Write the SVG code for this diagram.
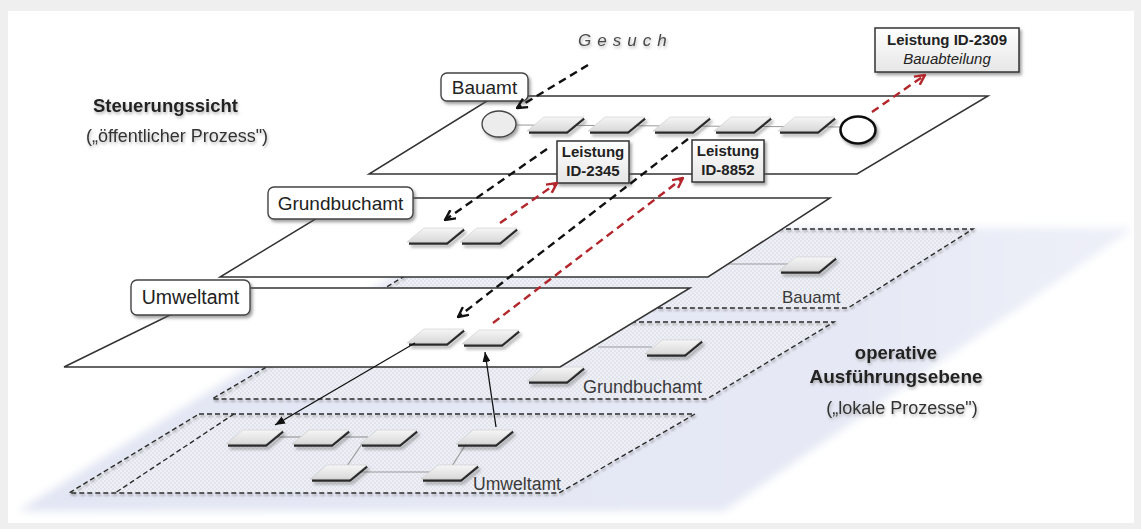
<svg xmlns="http://www.w3.org/2000/svg" width="1141" height="529" viewBox="0 0 1141 529">
  <style>
    .lbl { font-family: "Liberation Sans", Arial, sans-serif; fill: #222; }
    .ctrl { fill: #fff; stroke: #333; stroke-width: 1.5; stroke-linejoin: miter; }
    .op { fill: url(#dots); stroke: none; }
    .opedge { fill: none; stroke: #2b2b2b; stroke-width: 1.4; stroke-dasharray: 5 3; }
    .tag { fill: #fff; stroke: #444; stroke-width: 1.4; }
    .svc { fill: url(#svcfill); stroke: #333; stroke-width: 1.5; }
    .link { fill: none; stroke: #9a9a9a; stroke-width: 1.2; }
    .dblack { fill: none; stroke: #111; stroke-width: 2.4; stroke-dasharray: 8 5; }
    .dred { fill: none; stroke: #b3262b; stroke-width: 2.4; stroke-dasharray: 8 5; }
    .solid { fill: none; stroke: #111; stroke-width: 1.3; }
    .oplbl { font-family: "Liberation Sans", Arial, sans-serif; fill: #3a3a3a; }
  </style>
  <defs>
    <pattern id="dots" width="4" height="4" patternUnits="userSpaceOnUse">
      <rect width="4" height="4" fill="#eef0f6"/>
      <circle cx="1" cy="1" r="0.8" fill="#d2d5e1"/>
      <circle cx="3" cy="3" r="0.8" fill="#d2d5e1"/>
    </pattern>
    <linearGradient id="haze" x1="0" y1="0" x2="1" y2="0">
      <stop offset="0" stop-color="#e2e5f3"/>
      <stop offset="0.75" stop-color="#e6e9f5"/>
      <stop offset="1" stop-color="#eef0f9"/>
    </linearGradient>
    <linearGradient id="stepfill" x1="0" y1="0" x2="0" y2="1">
      <stop offset="0" stop-color="#f6f6f6"/>
      <stop offset="1" stop-color="#d9d9d9"/>
    </linearGradient>
    <linearGradient id="svcfill" x1="0" y1="0" x2="0" y2="1">
      <stop offset="0" stop-color="#ffffff"/>
      <stop offset="1" stop-color="#e6e6e6"/>
    </linearGradient>
    <filter id="soft" x="-10%" y="-10%" width="120%" height="120%">
      <feGaussianBlur stdDeviation="4"/>
    </filter>
    <filter id="shadow" x="-20%" y="-30%" width="140%" height="170%">
      <feDropShadow dx="2" dy="2.5" stdDeviation="1.5" flood-color="#555" flood-opacity="0.55"/>
    </filter>
    <filter id="txtshadow" x="-10%" y="-30%" width="120%" height="170%">
      <feDropShadow dx="1" dy="2" stdDeviation="1.6" flood-color="#777" flood-opacity="0.55"/>
    </filter>
    <filter id="edgeshadow" x="-5%" y="-10%" width="110%" height="125%">
      <feDropShadow dx="1" dy="2" stdDeviation="1" flood-color="#666" flood-opacity="0.6"/>
    </filter>
    <!-- flat process step: a skewed slab with a dark lower/right rim -->
    <g id="step">
      <path d="M2,15.5 L40,15.5 L57,1.5" fill="none" stroke="#2a2a2a" stroke-width="2.6" filter="url(#shadow)"/>
      <path d="M17,0 L57,0 L40,14 L0,14 Z" fill="url(#stepfill)" stroke="#c9c9c9" stroke-width="0.6"/>
    </g>
    <marker id="vBlack" viewBox="0 0 12 12" refX="11" refY="6" markerWidth="12" markerHeight="12" markerUnits="userSpaceOnUse" orient="auto">
      <path d="M1,1 L11,6 L1,11" fill="none" stroke="#111" stroke-width="2.4"/>
    </marker>
    <marker id="vRed" viewBox="0 0 12 12" refX="11" refY="6" markerWidth="12" markerHeight="12" markerUnits="userSpaceOnUse" orient="auto">
      <path d="M1,1 L11,6 L1,11" fill="none" stroke="#b3262b" stroke-width="2.4"/>
    </marker>
    <marker id="tri" viewBox="0 0 10 10" refX="10" refY="5" markerWidth="10" markerHeight="10" markerUnits="userSpaceOnUse" orient="auto">
      <path d="M0,1 L10,5 L0,9 Z" fill="#111"/>
    </marker>
  </defs>

  <!-- page -->
  <rect width="1141" height="529" fill="#efefef"/>
  <rect x="8" y="11" width="1126" height="512" fill="#fff"/>

  <!-- haze under the operative layer -->
  <polygon points="470,228 1134,228 724,511 18,511" fill="url(#haze)" filter="url(#soft)"/>

  <!-- operative layer: local processes -->
  <g id="op-bauamt">
    <polygon class="op" points="482,229 973,229 848,308 352,308"/>
    <polygon class="opedge" points="482,229 973,229 848,308 352,308" filter="url(#edgeshadow)"/>
    <line class="link" x1="700" y1="264" x2="788" y2="264"/>
    <use href="#step" x="779" y="257"/>
    <text class="oplbl" x="782" y="303" font-size="17">Bauamt</text>
  </g>
  <g id="op-grundbuchamt">
    <polygon class="op" points="343,322 834,322 707,399 212,399"/>
    <polygon class="opedge" points="343,322 834,322 707,399 212,399" filter="url(#edgeshadow)"/>
    <line class="link" x1="598" y1="347" x2="652" y2="347"/>
    <use href="#step" x="645" y="340"/>
    <use href="#step" x="527" y="367"/>
    <text class="oplbl" x="583" y="393" font-size="18">Grundbuchamt</text>
  </g>
  <g id="op-umweltamt">
    <polygon class="op" points="199,414 695,414 559,493 69,493"/>
    <polygon class="opedge" points="199,414 695,414 559,493 69,493" filter="url(#edgeshadow)"/>
    <line class="opedge" x1="234" y1="414" x2="115" y2="493"/>
    <line class="link" x1="272" y1="437" x2="302" y2="437"/>
    <line class="link" x1="338" y1="437" x2="368" y2="437"/>
    <line class="link" x1="362" y1="444" x2="347" y2="466"/>
    <line class="link" x1="466" y1="444" x2="452" y2="466"/>
    <line class="link" x1="352" y1="472" x2="430" y2="472"/>
    <use href="#step" x="226" y="430"/>
    <use href="#step" x="292" y="430"/>
    <use href="#step" x="360" y="430"/>
    <use href="#step" x="456" y="430"/>
    <use href="#step" x="310" y="465"/>
    <use href="#step" x="421" y="465"/>
    <text class="oplbl" x="473" y="490" font-size="17.6">Umweltamt</text>
  </g>

  <!-- control layer: public process -->
  <g id="ctrl-umweltamt">
    <polygon class="ctrl" points="225,288 690,288 560,367 64,367"/>
    <use href="#step" x="407" y="329"/>
    <use href="#step" x="462" y="330"/>
    <rect class="tag" x="131" y="280" width="119" height="35" rx="6" filter="url(#shadow)"/>
    <text class="lbl" x="190.5" y="304" font-size="19.5" text-anchor="middle">Umweltamt</text>
  </g>
  <g id="ctrl-grundbuchamt">
    <polygon class="ctrl" points="350,198 830,198 708,277 220,277"/>
    <use href="#step" x="407" y="228"/>
    <use href="#step" x="460" y="228"/>
    <rect class="tag" x="268" y="187" width="145" height="32" rx="6" filter="url(#shadow)"/>
    <text class="lbl" x="340.5" y="209.5" font-size="19" text-anchor="middle">Grundbuchamt</text>
  </g>
  <g id="ctrl-bauamt">
    <polygon class="ctrl" points="495,96 988,96 857,174 369,174"/>
    <line class="link" x1="514" y1="125" x2="842" y2="127"/>
    <ellipse cx="499" cy="124" rx="17" ry="13" fill="#ececec" stroke="#444" stroke-width="1.3" filter="url(#shadow)"/>
    <use href="#step" x="527" y="117"/>
    <use href="#step" x="588" y="117"/>
    <use href="#step" x="653" y="117"/>
    <use href="#step" x="714" y="117"/>
    <use href="#step" x="778" y="117"/>
    <ellipse cx="858" cy="130" rx="17.5" ry="13.5" fill="#fff" stroke="#111" stroke-width="2.6" filter="url(#shadow)"/>
    <rect class="tag" x="441" y="73" width="87" height="28" rx="6" filter="url(#shadow)"/>
    <text class="lbl" x="484.5" y="94" font-size="19" text-anchor="middle">Bauamt</text>
  </g>

  <!-- services -->
  <g id="svc-2309">
    <rect class="svc" x="875" y="28" width="144" height="44" filter="url(#shadow)"/>
    <text class="lbl" x="947" y="45" font-size="15" font-weight="bold" text-anchor="middle">Leistung ID-2309</text>
    <text class="lbl" x="947" y="64" font-size="15" font-style="italic" text-anchor="middle">Bauabteilung</text>
  </g>
  <g id="svc-2345">
    <rect class="svc" x="557" y="141" width="72" height="42" filter="url(#shadow)"/>
    <text class="lbl" x="593" y="157" font-size="15" font-weight="bold" text-anchor="middle">Leistung</text>
    <text class="lbl" x="593" y="176" font-size="15" font-weight="bold" text-anchor="middle">ID-2345</text>
  </g>
  <g id="svc-8852">
    <rect class="svc" x="692" y="140" width="72" height="42" filter="url(#shadow)"/>
    <text class="lbl" x="728" y="156" font-size="15" font-weight="bold" text-anchor="middle">Leistung</text>
    <text class="lbl" x="728" y="175" font-size="15" font-weight="bold" text-anchor="middle">ID-8852</text>
  </g>

  <!-- connectors -->
  <g id="connectors">
    <path class="dblack" d="M588,65 L517,108" marker-end="url(#vBlack)"/>
    <path class="dblack" d="M547,149 L445,220" marker-end="url(#vBlack)"/>
    <path class="dred" d="M500,223 L557,183" marker-end="url(#vRed)"/>
    <path class="dblack" d="M688,139 L458,317" marker-end="url(#vBlack)"/>
    <path class="dred" d="M493,323 L683,178" marker-end="url(#vRed)"/>
    <path class="dred" d="M872,112 L925,75" marker-end="url(#vRed)"/>
    <path class="solid" d="M415,343 L275,425" marker-end="url(#tri)"/>
    <path class="solid" d="M496,427 L485,352" marker-end="url(#tri)"/>
  </g>

  <!-- headings -->
  <g id="headings" filter="url(#txtshadow)">
    <text class="lbl" x="578" y="46" font-size="17" font-style="italic" letter-spacing="6" style="fill:#4a4a4a">Gesuch</text>
    <text class="lbl" x="93" y="112" font-size="18.5" font-weight="bold">Steuerungssicht</text>
    <text class="lbl" x="86" y="142" font-size="18" style="fill:#333">(„öffentlicher Prozess")</text>
    <text class="lbl" x="896" y="359" font-size="18.5" font-weight="bold" text-anchor="middle">operative</text>
    <text class="lbl" x="896" y="383" font-size="19" font-weight="bold" text-anchor="middle">Ausführungsebene</text>
    <text class="lbl" x="902" y="414" font-size="18" text-anchor="middle" style="fill:#333">(„lokale Prozesse")</text>
  </g>
</svg>
